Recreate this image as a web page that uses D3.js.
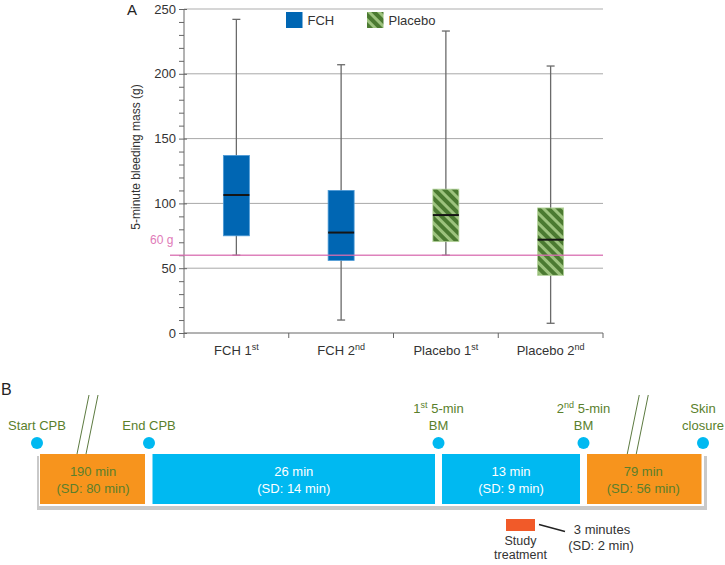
<!DOCTYPE html>
<html><head><meta charset="utf-8">
<script src="https://cdn.jsdelivr.net/npm/d3@7"></script>
<style>
body{margin:0;background:#fff;}
svg{font-family:"Liberation Sans",Arial,Helvetica,sans-serif;}
</style></head>
<body>
<svg id="chart" width="725" height="565"></svg>
<script>
// ---- Panel A data ----
const categories = ["FCH 1", "FCH 2", "Placebo 1", "Placebo 2"];
const catSup = ["st", "nd", "st", "nd"];
const catGroup = ["FCH", "FCH", "Placebo", "Placebo"];
const whiskerLow = [60, 10, 60, 7.5];
const q1 = [75, 56, 70.5, 44.5];
const median = [106.5, 77.5, 91, 72];
const q3 = [137, 110, 111, 96.5];
const whiskerHigh = [242, 207, 233, 206];
const legendGroups = ["FCH", "Placebo"];
const yTicks = [0, 50, 100, 150, 200, 250];
const threshold = 60;

// ---- Panel B data ----
const milestones = [["Start CPB"], ["End CPB"], ["1", "st", " 5-min", "BM"], ["2", "nd", " 5-min", "BM"], ["Skin", "closure"]];
const segMeans = [190, 26, 13, 79];
const segSDs = [80, 14, 9, 56];
const segType = ["long", "short", "short", "long"];
const treatMean = 3, treatSD = 2;

const svg = d3.select("#chart");
const blue = "#0066b3", dkGreen = "#4b7a31", ltGreen = "#9cc27d";

// pattern
const defs = svg.append("defs");
const pat = defs.append("pattern").attr("id", "hatch").attr("patternUnits", "userSpaceOnUse")
  .attr("width", 7).attr("height", 7).attr("patternTransform", "rotate(-45)");
pat.append("rect").attr("width", 7).attr("height", 7).attr("fill", dkGreen);
pat.append("rect").attr("width", 3).attr("height", 7).attr("fill", ltGreen);

const fillFor = g => g === "FCH" ? blue : "url(#hatch)";
const edgeFor = g => g === "FCH" ? "#4d9ad6" : "#b3d29a";

// scales
const x = d3.scaleBand().domain(categories).range([184, 603]).padding(0);
const y = d3.scaleLinear().domain([0, 250]).range([333, 9]);

// gridlines
svg.append("g").selectAll("line").data(yTicks.filter(t => t > 0)).join("line")
  .attr("x1", 184).attr("x2", 603).attr("y1", d => y(d)).attr("y2", d => y(d))
  .attr("stroke", d => d === 250 ? "#c8c8c8" : "#a8a8a8").attr("stroke-width", d => d === 250 ? 1.6 : 1);

// y axis
const yAxis = svg.append("g").attr("transform", "translate(184,0)");
yAxis.call(d3.axisLeft(y).tickValues(d3.range(0, 251, 10)).tickSize(5).tickFormat(d => yTicks.includes(d) ? d : ""));
yAxis.select(".domain").attr("stroke", "#666").attr("d", `M0,${y(250)}V${y(0)}`);
yAxis.selectAll(".tick line").attr("stroke", "#666");
yAxis.selectAll(".tick").filter(d => yTicks.includes(d)).select("line").attr("x1", 3);
yAxis.selectAll(".tick text").attr("font-size", 13).attr("fill", "#333").attr("x", -8)
  .attr("font-family", "'Liberation Sans',Arial,sans-serif");

// x axis
const xAxis = svg.append("g").attr("transform", "translate(0,333)");
xAxis.append("line").attr("x1", 184).attr("x2", 603).attr("stroke", "#666");
xAxis.selectAll("line.tk").data(categories.concat(["end"])).join("line").attr("class", "tk")
  .attr("x1", (d, i) => i < categories.length ? x(d) : x.range()[1])
  .attr("x2", (d, i) => i < categories.length ? x(d) : x.range()[1])
  .attr("y1", 0).attr("y2", 5).attr("stroke", "#666");
const xl = xAxis.selectAll("text").data(categories).join("text")
  .attr("x", d => x(d) + x.bandwidth() / 2).attr("y", 22).attr("text-anchor", "middle")
  .attr("font-size", 13).attr("fill", "#333");
xl.append("tspan").text(d => d);
xl.append("tspan").text((d, i) => catSup[i]).attr("font-size", 9).attr("dy", -5);

// y label & panel letter
svg.append("text").attr("transform", `translate(140,157) rotate(-90)`).attr("text-anchor", "middle")
  .attr("font-size", 12).attr("fill", "#333").text("5-minute bleeding mass (g)");
svg.append("text").attr("x", 127).attr("y", 14.5).attr("font-size", 15).attr("fill", "#222").text("A");

// boxes
const bw = 26;
const boxes = svg.append("g").selectAll("g").data(categories).join("g")
  .attr("transform", d => `translate(${x(d) + x.bandwidth() / 2},0)`);
boxes.append("line").attr("y1", (d, i) => y(whiskerLow[i])).attr("y2", (d, i) => y(whiskerHigh[i]))
  .attr("stroke", "#6a6a6a").attr("stroke-width", 1.3);
boxes.append("line").attr("x1", -4).attr("x2", 4).attr("y1", (d, i) => y(whiskerHigh[i])).attr("y2", (d, i) => y(whiskerHigh[i]))
  .attr("stroke", "#6a6a6a").attr("stroke-width", 1.3);
boxes.append("line").attr("x1", -4).attr("x2", 4).attr("y1", (d, i) => y(whiskerLow[i])).attr("y2", (d, i) => y(whiskerLow[i]))
  .attr("stroke", "#6a6a6a").attr("stroke-width", 1.3);
boxes.append("rect").attr("x", -bw / 2).attr("width", bw)
  .attr("y", (d, i) => y(q3[i])).attr("height", (d, i) => y(q1[i]) - y(q3[i]))
  .attr("fill", (d, i) => fillFor(catGroup[i])).attr("stroke", (d, i) => edgeFor(catGroup[i])).attr("stroke-width", 0.8);
boxes.append("line").attr("x1", -bw / 2).attr("x2", bw / 2).attr("y1", (d, i) => y(median[i])).attr("y2", (d, i) => y(median[i]))
  .attr("stroke", "#151515").attr("stroke-width", 2);

// threshold line
svg.append("line").attr("x1", 170).attr("x2", 603).attr("y1", y(threshold)).attr("y2", y(threshold))
  .attr("stroke", "#d86cb0").attr("stroke-width", 1.6).attr("stroke-opacity", 0.85);
svg.append("text").attr("x", 150).attr("y", y(threshold) - 11).attr("font-size", 12).attr("fill", "#e07ab8").text(threshold + " g");

// legend
const lgX = d3.scaleOrdinal().domain(legendGroups).range([286, 367]);
const lg = svg.append("g").selectAll("g").data(legendGroups).join("g").attr("transform", d => `translate(${lgX(d)},12)`);
lg.append("rect").attr("width", 16.5).attr("height", 16).attr("fill", d => fillFor(d));
lg.append("text").attr("x", 21.5).attr("y", 13).attr("font-size", 13).attr("fill", "#333").text(d => d);

// ---- Panel B ----
svg.append("text").attr("x", 1).attr("y", 395).attr("font-size", 16).attr("fill", "#222").text("B");
const tx = d3.scaleLinear().domain([0, 1, 2, 3, 4]).range([37, 149, 438.5, 583.5, 703]);
const textGreen = "#5a7f2c";
// container shadow
svg.append("rect").attr("x", tx(0)).attr("y", 456).attr("width", tx(4) - tx(0) + 4).attr("height", 54).attr("fill", "#c9c9c9");
svg.append("rect").attr("x", tx(0) + 2).attr("y", 452).attr("width", tx(4) - tx(0) - 1).attr("height", 54).attr("fill", "#fff");
const segs = svg.append("g").selectAll("g").data(segMeans).join("g");
segs.append("rect")
  .attr("x", (d, i) => tx(i) + (i === 0 ? 3 : 3.5))
  .attr("width", (d, i) => tx(i + 1) - tx(i) - (i === 0 ? 7 : (i === 3 ? 5 : 7)))
  .attr("y", 454).attr("height", 50)
  .attr("fill", (d, i) => segType[i] === "long" ? "#f7941d" : "#00b9f1");
segs.append("text").attr("x", (d, i) => (tx(i) + tx(i + 1)) / 2).attr("y", 476).attr("text-anchor", "middle")
  .attr("font-size", 13).attr("fill", (d, i) => segType[i] === "long" ? textGreen : "#fff").text(d => d + " min");
segs.append("text").attr("x", (d, i) => (tx(i) + tx(i + 1)) / 2).attr("y", 492.5).attr("text-anchor", "middle")
  .attr("font-size", 13).attr("fill", (d, i) => segType[i] === "long" ? textGreen : "#fff").text((d, i) => `(SD: ${segSDs[i]} min)`);

// break marks on long segments
const breaks = svg.append("g").selectAll("g").data(segMeans.map((d, i) => i).filter(i => segType[i] === "long")).join("g")
  .attr("transform", i => `translate(${(tx(i) + tx(i + 1)) / 2 - 8},0)`);
[0, 9].forEach(off => {
  breaks.append("line").attr("x1", off + 4).attr("y1", 395).attr("x2", off - 8).attr("y2", 454)
    .attr("stroke", "#4a6b2a").attr("stroke-width", 0.9);
});

// milestones
const ms = svg.append("g").selectAll("g").data(milestones).join("g").attr("transform", (d, i) => `translate(${tx(i)},0)`);
ms.append("circle").attr("cy", 443).attr("r", 6).attr("fill", "#00b9f1");
ms.each(function (d) {
  const g = d3.select(this);
  if (d.length === 1) {
    g.append("text").attr("y", 430).attr("text-anchor", "middle").attr("font-size", 13).attr("fill", textGreen).text(d[0]);
  } else if (d.length === 2) {
    g.append("text").attr("y", 413).attr("text-anchor", "middle").attr("font-size", 13).attr("fill", textGreen).text(d[0]);
    g.append("text").attr("y", 430).attr("text-anchor", "middle").attr("font-size", 13).attr("fill", textGreen).text(d[1]);
  } else {
    const t = g.append("text").attr("y", 413).attr("text-anchor", "middle").attr("font-size", 13).attr("fill", textGreen);
    t.append("tspan").text(d[0]);
    t.append("tspan").text(d[1]).attr("font-size", 9).attr("dy", -5);
    t.append("tspan").text(d[2]).attr("dy", 5);
    g.append("text").attr("y", 430).attr("text-anchor", "middle").attr("font-size", 13).attr("fill", textGreen).text(d[3]);
  }
});

// study treatment
const stX = (tx(2) + tx(3)) / 2 + 5;
svg.append("rect").attr("x", stX - 10).attr("y", 519).attr("width", 29).attr("height", 12).attr("fill", "#f15a29");
svg.append("text").attr("x", stX + 4.5).attr("y", 544.5).attr("text-anchor", "middle").attr("font-size", 12.5).attr("fill", "#333").text("Study");
svg.append("text").attr("x", stX + 4.5).attr("y", 558.5).attr("text-anchor", "middle").attr("font-size", 12.5).attr("fill", "#333").text("treatment");
svg.append("line").attr("x1", stX + 23).attr("y1", 524.5).attr("x2", stX + 49).attr("y2", 531.5).attr("stroke", "#222").attr("stroke-width", 1.3);
svg.append("text").attr("x", stX + 86).attr("y", 533.5).attr("text-anchor", "middle").attr("font-size", 13).attr("fill", "#333").text(`${treatMean} minutes`);
svg.append("text").attr("x", stX + 85).attr("y", 549.5).attr("text-anchor", "middle").attr("font-size", 13).attr("fill", "#333").text(`(SD: ${treatSD} min)`);
</script>
</body></html>
